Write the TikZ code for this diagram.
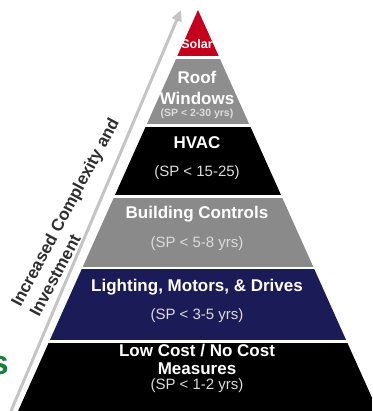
\documentclass[tikz,border=0pt]{standalone}
\usepackage{fontspec}
\setmainfont{Liberation Sans}
\usetikzlibrary{arrows.meta, positioning}

\definecolor{solarred}{HTML}{C4001C}
\definecolor{roofgray}{HTML}{8E8E8E}
\definecolor{ctrlgray}{HTML}{8A8A8A}
\definecolor{lightnavy}{HTML}{1B1B58}
\definecolor{subgray}{HTML}{DCDCDC}
\definecolor{labelgray}{HTML}{2E2E2E}
\definecolor{arrowgray}{HTML}{C4C4C4}
\definecolor{greenword}{HTML}{17803A}

\begin{document}
\begin{tikzpicture}[x=1pt, y=-1pt,
    title/.style={text=white, font=\bfseries\fontsize{17}{18}\selectfont, inner sep=0pt},
    sub/.style={text=subgray, font=\fontsize{15}{16}\selectfont, inner sep=0pt},
    small/.style={text=subgray, font=\bfseries\fontsize{10.5}{11}\selectfont, inner sep=0pt},
    trend/.style={draw=arrowgray, line width=3pt, -{Triangle[length=11pt,width=10pt]}}]
        \useasboundingbox (0,0) rectangle (372,411);
        \clip (0,0) rectangle (372,411);

        % pyramid bands
        \begin{scope}
          \clip (198,10) -- (382,420) -- (14,420) -- cycle;
          \fill[solarred]  (0,10)    rectangle (372,56.5);
          \fill[roofgray]  (0,59)    rectangle (372,124.5);
          \fill[black]     (0,127)   rectangle (372,195.5);
          \fill[ctrlgray]  (0,198)   rectangle (372,266.5);
          \fill[lightnavy] (0,269)   rectangle (372,340);
          \fill[black]     (0,342.5) rectangle (372,420);
        \end{scope}

        % band texts
        \node[title, font=\bfseries\fontsize{12.5}{13}\selectfont] (solar) at (197,44) {Solar};
        \node[title] (roof)     at (197,77)  {Roof};
        \node[title] (windows)  at (197,98)  {Windows};
        \node[small] (roofsp)   at (197,114) {(SP < 2-30 yrs)};
        \node[title] (hvac)     at (197,143) {HVAC};
        \node[sub]   (hvacsp)   at (197,173) {(SP < 15-25)};
        \node[title] (controls) at (197,214) {Building Controls};
        \node[sub]   (ctrlsp)   at (197,244) {(SP < 5-8 yrs)};
        \node[title] (lighting) at (197,287) {Lighting, Motors, \& Drives};
        \node[sub]   (lightsp)  at (197,316) {(SP < 3-5 yrs)};
        \node[title] (lowcost)  at (197,351) {Low Cost / No Cost};
        \node[title] (measures) at (197,369) {Measures};
        \node[sub]   (lowsp)    at (197,386) {(SP < 1-2 yrs)};

        % rising arrow
        \coordinate (base) at (11,411);
        \coordinate (tip)  at (181,10);
        \draw[trend] (base) -- (tip);
        \node[rotate=62, align=left, text=labelgray, inner sep=0pt,
              font=\bfseries\fontsize{17}{21}\selectfont] (trendlabel)
              at (74,217) {Increased Complexity and\\Investment};

        % cut word at the left edge
        \node[text=greenword, font=\bfseries\fontsize{34}{34}\selectfont,
              anchor=east, inner sep=0pt] (cutword) at (9,366) {s};
\end{tikzpicture}
\end{document}
